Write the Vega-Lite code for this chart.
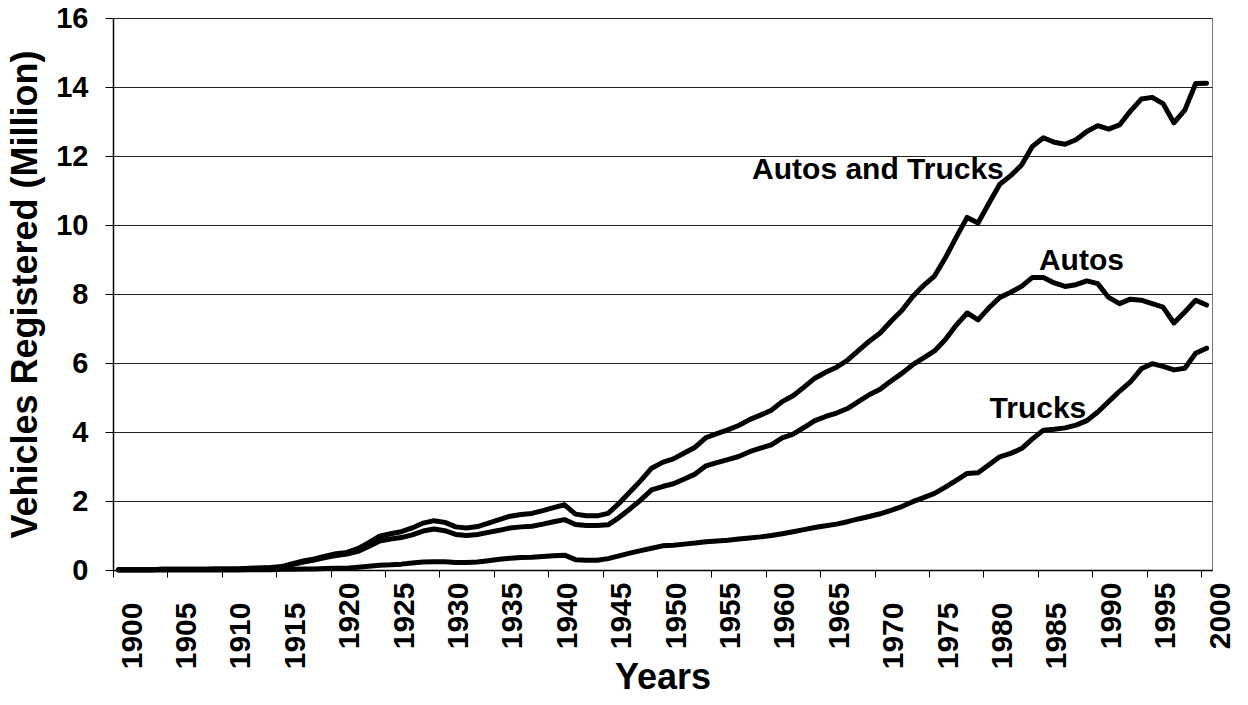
{
  "$schema": "https://vega.github.io/schema/vega-lite/v6.json",
  "width": 1099,
  "height": 552,
  "autosize": {"type": "none"},
  "padding": {"left": 113, "top": 18, "right": 36, "bottom": 135},
  "background": "white",
  "config": {
    "view": {"stroke": "#777", "strokeWidth": 1},
    "font": "Liberation Sans",
    "axis": {"domainColor": "#000", "tickColor": "#000", "labelColor": "#000", "titleColor": "#000", "labelFont": "Liberation Sans", "titleFont": "Liberation Sans"}
  },
  "datasets": {
    "reg": [
      {"year": 1900, "autos": 0.01, "trucks": 0.00, "total": 0.01},
      {"year": 1901, "autos": 0.01, "trucks": 0.00, "total": 0.01},
      {"year": 1902, "autos": 0.01, "trucks": 0.00, "total": 0.01},
      {"year": 1903, "autos": 0.01, "trucks": 0.00, "total": 0.01},
      {"year": 1904, "autos": 0.02, "trucks": 0.00, "total": 0.02},
      {"year": 1905, "autos": 0.02, "trucks": 0.00, "total": 0.02},
      {"year": 1906, "autos": 0.02, "trucks": 0.00, "total": 0.02},
      {"year": 1907, "autos": 0.02, "trucks": 0.00, "total": 0.02},
      {"year": 1908, "autos": 0.02, "trucks": 0.00, "total": 0.02},
      {"year": 1909, "autos": 0.03, "trucks": 0.00, "total": 0.03},
      {"year": 1910, "autos": 0.03, "trucks": 0.00, "total": 0.03},
      {"year": 1911, "autos": 0.03, "trucks": 0.00, "total": 0.03},
      {"year": 1912, "autos": 0.04, "trucks": 0.01, "total": 0.05},
      {"year": 1913, "autos": 0.05, "trucks": 0.01, "total": 0.06},
      {"year": 1914, "autos": 0.06, "trucks": 0.01, "total": 0.07},
      {"year": 1915, "autos": 0.08, "trucks": 0.02, "total": 0.10},
      {"year": 1916, "autos": 0.16, "trucks": 0.02, "total": 0.18},
      {"year": 1917, "autos": 0.23, "trucks": 0.03, "total": 0.26},
      {"year": 1918, "autos": 0.29, "trucks": 0.03, "total": 0.32},
      {"year": 1919, "autos": 0.36, "trucks": 0.04, "total": 0.40},
      {"year": 1920, "autos": 0.42, "trucks": 0.05, "total": 0.47},
      {"year": 1921, "autos": 0.46, "trucks": 0.05, "total": 0.51},
      {"year": 1922, "autos": 0.54, "trucks": 0.08, "total": 0.62},
      {"year": 1923, "autos": 0.68, "trucks": 0.11, "total": 0.79},
      {"year": 1924, "autos": 0.84, "trucks": 0.14, "total": 0.98},
      {"year": 1925, "autos": 0.90, "trucks": 0.15, "total": 1.05},
      {"year": 1926, "autos": 0.94, "trucks": 0.17, "total": 1.11},
      {"year": 1927, "autos": 1.02, "trucks": 0.20, "total": 1.22},
      {"year": 1928, "autos": 1.13, "trucks": 0.23, "total": 1.36},
      {"year": 1929, "autos": 1.19, "trucks": 0.24, "total": 1.43},
      {"year": 1930, "autos": 1.14, "trucks": 0.24, "total": 1.38},
      {"year": 1931, "autos": 1.03, "trucks": 0.22, "total": 1.25},
      {"year": 1932, "autos": 1.00, "trucks": 0.22, "total": 1.22},
      {"year": 1933, "autos": 1.03, "trucks": 0.23, "total": 1.26},
      {"year": 1934, "autos": 1.09, "trucks": 0.27, "total": 1.36},
      {"year": 1935, "autos": 1.15, "trucks": 0.31, "total": 1.46},
      {"year": 1936, "autos": 1.22, "trucks": 0.34, "total": 1.56},
      {"year": 1937, "autos": 1.25, "trucks": 0.36, "total": 1.61},
      {"year": 1938, "autos": 1.27, "trucks": 0.37, "total": 1.64},
      {"year": 1939, "autos": 1.33, "trucks": 0.39, "total": 1.72},
      {"year": 1940, "autos": 1.40, "trucks": 0.41, "total": 1.81},
      {"year": 1941, "autos": 1.46, "trucks": 0.43, "total": 1.89},
      {"year": 1942, "autos": 1.32, "trucks": 0.30, "total": 1.62},
      {"year": 1943, "autos": 1.29, "trucks": 0.28, "total": 1.57},
      {"year": 1944, "autos": 1.29, "trucks": 0.28, "total": 1.57},
      {"year": 1945, "autos": 1.31, "trucks": 0.33, "total": 1.64},
      {"year": 1946, "autos": 1.52, "trucks": 0.41, "total": 1.93},
      {"year": 1947, "autos": 1.77, "trucks": 0.49, "total": 2.26},
      {"year": 1948, "autos": 2.03, "trucks": 0.56, "total": 2.59},
      {"year": 1949, "autos": 2.32, "trucks": 0.63, "total": 2.95},
      {"year": 1950, "autos": 2.42, "trucks": 0.70, "total": 3.12},
      {"year": 1951, "autos": 2.50, "trucks": 0.72, "total": 3.22},
      {"year": 1952, "autos": 2.64, "trucks": 0.75, "total": 3.39},
      {"year": 1953, "autos": 2.78, "trucks": 0.78, "total": 3.56},
      {"year": 1954, "autos": 3.02, "trucks": 0.82, "total": 3.84},
      {"year": 1955, "autos": 3.11, "trucks": 0.84, "total": 3.95},
      {"year": 1956, "autos": 3.20, "trucks": 0.86, "total": 4.06},
      {"year": 1957, "autos": 3.29, "trucks": 0.90, "total": 4.19},
      {"year": 1958, "autos": 3.43, "trucks": 0.93, "total": 4.36},
      {"year": 1959, "autos": 3.53, "trucks": 0.96, "total": 4.49},
      {"year": 1960, "autos": 3.63, "trucks": 1.00, "total": 4.63},
      {"year": 1961, "autos": 3.83, "trucks": 1.05, "total": 4.88},
      {"year": 1962, "autos": 3.94, "trucks": 1.11, "total": 5.05},
      {"year": 1963, "autos": 4.13, "trucks": 1.17, "total": 5.30},
      {"year": 1964, "autos": 4.33, "trucks": 1.23, "total": 5.56},
      {"year": 1965, "autos": 4.45, "trucks": 1.28, "total": 5.73},
      {"year": 1966, "autos": 4.55, "trucks": 1.33, "total": 5.88},
      {"year": 1967, "autos": 4.68, "trucks": 1.40, "total": 6.08},
      {"year": 1968, "autos": 4.88, "trucks": 1.48, "total": 6.36},
      {"year": 1969, "autos": 5.08, "trucks": 1.55, "total": 6.63},
      {"year": 1970, "autos": 5.24, "trucks": 1.63, "total": 6.87},
      {"year": 1971, "autos": 5.48, "trucks": 1.73, "total": 7.21},
      {"year": 1972, "autos": 5.70, "trucks": 1.84, "total": 7.52},
      {"year": 1973, "autos": 5.95, "trucks": 1.98, "total": 7.93},
      {"year": 1974, "autos": 6.15, "trucks": 2.10, "total": 8.25},
      {"year": 1975, "autos": 6.35, "trucks": 2.22, "total": 8.52},
      {"year": 1976, "autos": 6.68, "trucks": 2.40, "total": 9.05},
      {"year": 1977, "autos": 7.10, "trucks": 2.60, "total": 9.65},
      {"year": 1978, "autos": 7.45, "trucks": 2.80, "total": 10.22},
      {"year": 1979, "autos": 7.25, "trucks": 2.82, "total": 10.06},
      {"year": 1980, "autos": 7.60, "trucks": 3.05, "total": 10.63},
      {"year": 1981, "autos": 7.90, "trucks": 3.28, "total": 11.18},
      {"year": 1982, "autos": 8.05, "trucks": 3.38, "total": 11.43},
      {"year": 1983, "autos": 8.22, "trucks": 3.52, "total": 11.74},
      {"year": 1984, "autos": 8.48, "trucks": 3.80, "total": 12.28},
      {"year": 1985, "autos": 8.48, "trucks": 4.05, "total": 12.53},
      {"year": 1986, "autos": 8.32, "trucks": 4.08, "total": 12.40},
      {"year": 1987, "autos": 8.22, "trucks": 4.12, "total": 12.34},
      {"year": 1988, "autos": 8.27, "trucks": 4.20, "total": 12.47},
      {"year": 1989, "autos": 8.38, "trucks": 4.33, "total": 12.71},
      {"year": 1990, "autos": 8.30, "trucks": 4.58, "total": 12.88},
      {"year": 1991, "autos": 7.90, "trucks": 4.88, "total": 12.78},
      {"year": 1992, "autos": 7.72, "trucks": 5.18, "total": 12.90},
      {"year": 1993, "autos": 7.85, "trucks": 5.45, "total": 13.30},
      {"year": 1994, "autos": 7.82, "trucks": 5.83, "total": 13.65},
      {"year": 1995, "autos": 7.72, "trucks": 5.98, "total": 13.70},
      {"year": 1996, "autos": 7.62, "trucks": 5.90, "total": 13.52},
      {"year": 1997, "autos": 7.16, "trucks": 5.80, "total": 12.96},
      {"year": 1998, "autos": 7.48, "trucks": 5.85, "total": 13.33},
      {"year": 1999, "autos": 7.82, "trucks": 6.28, "total": 14.10},
      {"year": 2000, "autos": 7.68, "trucks": 6.43, "total": 14.11}
    ],
    "labels": [
      {"label": "Autos and Trucks", "year": 1969.8, "value": 11.32},
      {"label": "Autos", "year": 1988.5, "value": 8.70},
      {"label": "Trucks", "year": 1984.5, "value": 4.40}
    ]
  },
  "encoding": {
    "x": {
      "field": "year",
      "type": "quantitative",
      "scale": {"domain": [1899.5, 2000.5], "nice": false, "zero": false},
      "axis": {
        "title": "Years",
        "titleFontSize": 36,
        "titleFontWeight": "bold",
        "titlePadding": -8,
        "values": [1899.5, 1904.5, 1909.5, 1914.5, 1919.5, 1924.5, 1929.5, 1934.5, 1939.5, 1944.5, 1949.5, 1954.5, 1959.5, 1964.5, 1969.5, 1974.5, 1979.5, 1984.5, 1989.5, 1994.5, 1999.5],
        "labelExpr": "'' + (datum.value + 0.5)",
        "labelAngle": -90,
        "labelFontSize": 30,
        "labelFontWeight": "bold",
        "labelOffset": 19,
        "labelPadding": {"condition": {"test": "datum.value < 1917 || (datum.value > 1967 && datum.value < 1987)", "value": 25}, "value": 5},
        "labelOverlap": false,
        "labelFlush": false,
        "labelBound": false,
        "tickSize": 7,
        "tickWidth": 1,
        "domainWidth": 1.5,
        "grid": false
      }
    }
  },
  "layer": [
    {
      "data": {"name": "reg"},
      "mark": {"type": "line", "color": "#000", "strokeWidth": 5, "strokeJoin": "round", "strokeCap": "round"},
      "encoding": {
        "y": {
          "field": "total",
          "type": "quantitative",
          "scale": {"domain": [0, 16], "nice": false},
          "axis": {
            "title": "Vehicles Registered (Million)",
            "titleFontSize": 36,
            "titleFontWeight": "bold",
            "titlePadding": 11,
            "values": [0, 2, 4, 6, 8, 10, 12, 14, 16],
            "labelFontSize": 29,
            "labelFontWeight": "bold",
            "labelPadding": 17,
            "tickSize": 8,
            "domainWidth": 1.5,
            "grid": true,
            "gridColor": "#222",
            "gridWidth": 1
          }
        }
      }
    },
    {
      "data": {"name": "reg"},
      "mark": {"type": "line", "color": "#000", "strokeWidth": 5, "strokeJoin": "round", "strokeCap": "round"},
      "encoding": {"y": {"field": "autos", "type": "quantitative"}}
    },
    {
      "data": {"name": "reg"},
      "mark": {"type": "line", "color": "#000", "strokeWidth": 5, "strokeJoin": "round", "strokeCap": "round"},
      "encoding": {"y": {"field": "trucks", "type": "quantitative"}}
    },
    {
      "data": {"name": "labels"},
      "mark": {"type": "text", "align": "center", "baseline": "alphabetic", "fontSize": 30, "fontWeight": "bold", "font": "Liberation Sans", "color": "#000"},
      "encoding": {
        "y": {"field": "value", "type": "quantitative"},
        "text": {"field": "label"}
      }
    }
  ]
}
